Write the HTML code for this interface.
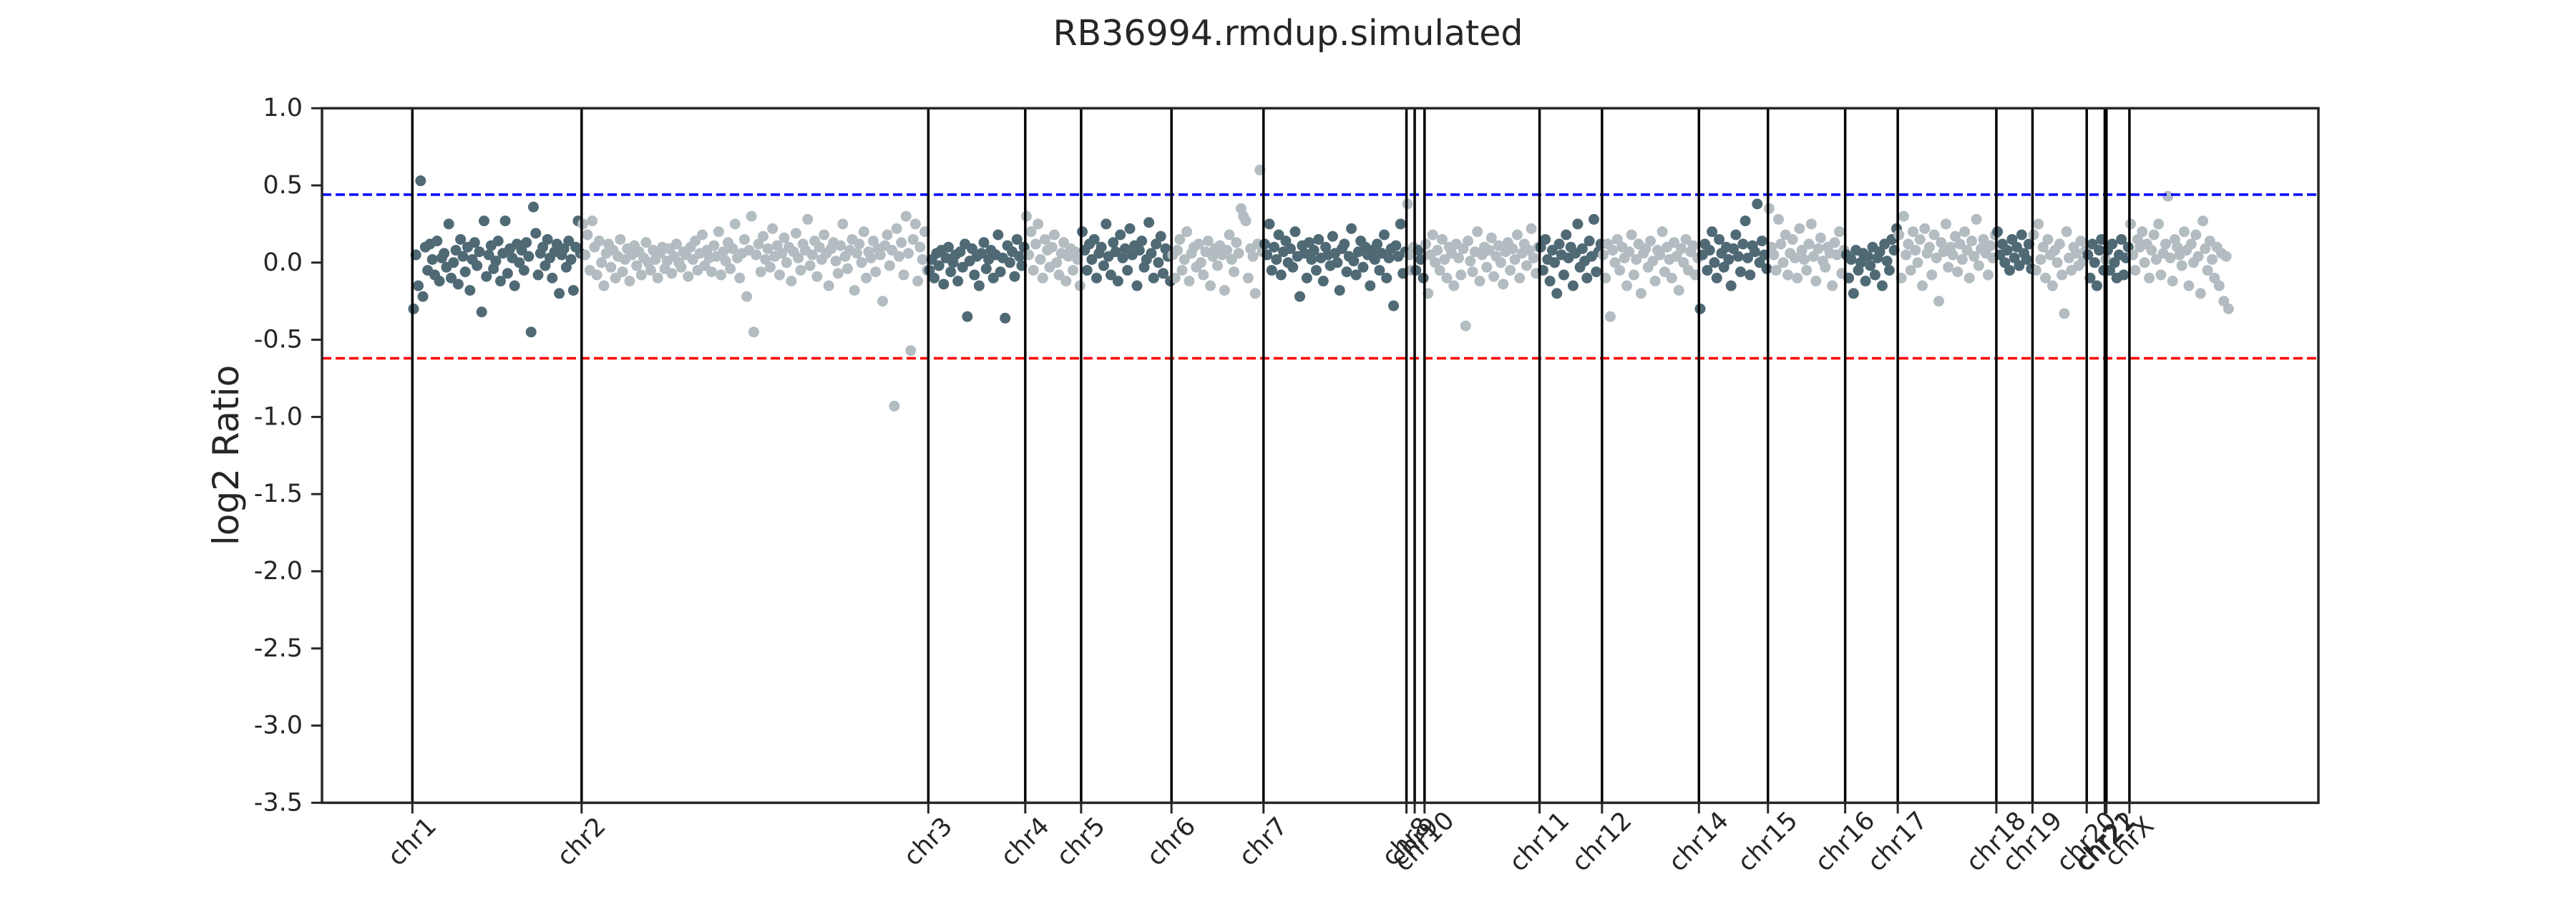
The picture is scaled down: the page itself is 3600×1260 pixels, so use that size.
<!DOCTYPE html>
<html><head><meta charset="utf-8"><style>
html,body{margin:0;padding:0;background:#fff;}
svg{display:block;font-family:"DejaVu Sans","Liberation Sans",sans-serif;}
</style></head><body>
<svg id="chart" width="3600" height="1260" viewBox="0 0 3600 1260" xmlns="http://www.w3.org/2000/svg">
<rect width="3600" height="1260" fill="#fff"/>
<text x="1800" y="63" text-anchor="middle" font-size="49" fill="#262626">RB36994.rmdup.simulated</text>
<text transform="translate(333,636) rotate(-90)" text-anchor="middle" font-size="50" fill="#262626">log2 Ratio</text>
<g id="plot"></g>
</svg>
<script>
const chromNames = ["chr1","chr2","chr3","chr4","chr5","chr6","chr7","chr8","chr9","chr10","chr11","chr12","chr14","chr15","chr16","chr17","chr18","chr19","chr20","chr21","chr22","chrX"];
const chromStarts = [55,158,369,428,462,517,573,660,665,671,741,779,838,880,927,959,1019,1041,1074,1085,1086,1100];
const genomeEnd = 1161;
const yTicks = [1.0,0.5,0.0,-0.5,-1.0,-1.5,-2.0,-2.5,-3.0,-3.5];
const yTickLabels = ["1.0","0.5","0.0","-0.5","-1.0","-1.5","-2.0","-2.5","-3.0","-3.5"];
const gainThreshold = 0.44;
const lossThreshold = -0.62;
const chr1 = [-0.30,0.05,-0.15,0.53,-0.22,0.10,-0.05,0.12,0.02,-0.08,0.14,-0.12,0.03,0.06,-0.03,0.25,-0.10,0.00,0.08,-0.14,0.15,0.04,-0.06,0.10,-0.18,0.02,0.13,-0.02,0.07,-0.32,0.27,-0.09,0.05,0.11,-0.04,0.01,0.14,-0.12,0.06,0.27,-0.07,0.09,0.03,-0.15,0.12,0.00,0.08,-0.05,0.13,0.04,-0.45,0.36,0.19,-0.08,0.06,0.10,-0.02,0.15,0.03,-0.10,0.07,0.12,-0.20,0.05,0.09,-0.03,0.14,0.02,-0.18,0.10,0.27,0.06];
const chr2 = [0.25,0.05,0.18,-0.05,0.27,0.10,-0.08,0.14,0.00,-0.15,0.06,0.12,-0.03,0.08,-0.10,0.04,0.15,-0.06,0.02,0.09,-0.12,0.05,0.11,-0.02,0.07,-0.08,0.03,0.13,0.00,-0.05,0.08,0.02,-0.10,0.06,0.10,-0.04,0.01,0.09,-0.07,0.04,0.12,0.00,-0.03,0.07,0.05,-0.09,0.10,0.02,0.14,-0.05,0.06,0.18,-0.02,0.08,0.03,-0.06,0.11,0.04,0.20,-0.08,0.07,0.01,0.13,-0.04,0.09,0.25,0.03,-0.10,0.06,0.15,-0.22,0.08,0.30,-0.45,0.05,0.12,-0.06,0.17,0.02,0.09,-0.03,0.22,0.04,0.11,-0.08,0.06,0.16,0.00,0.10,-0.12,0.07,0.19,0.03,-0.05,0.12,0.08,0.28,-0.02,0.05,0.14,-0.09,0.10,0.02,0.18,0.06,-0.15,0.09,0.13,0.01,-0.07,0.11,0.25,0.04,-0.04,0.08,0.15,-0.18,0.06,0.12,0.00,0.20,-0.10,0.07,0.03,0.14,-0.06,0.09,0.05,-0.25,0.11,0.18,-0.02,0.08,-0.93,0.22,0.04,0.13,-0.08,0.30,0.06,-0.57,0.15,0.25,-0.12,0.10,0.02,0.20,-0.05];
const chr3 = [-0.05,0.02,-0.10,0.06,-0.02,0.08,-0.14,0.03,0.10,-0.06,0.00,0.05,-0.12,0.07,-0.03,0.12,-0.35,0.01,0.09,-0.08,0.04,-0.15,0.06,0.13,-0.04,0.02,0.08,-0.10,0.05,0.18,-0.06,0.03,-0.36,0.11,0.00,0.07,-0.09,0.15,0.04,-0.02,0.10];
const chr4 = [0.30,0.05,0.20,-0.05,0.12,0.25,0.02,-0.10,0.15,0.08,-0.03,0.10,0.18,0.00,-0.08,0.06,0.13,-0.12,0.04,0.09,-0.05,0.07,0.02,-0.15];
const chr5 = [0.20,0.08,-0.05,0.12,0.02,0.15,-0.10,0.06,0.10,-0.02,0.25,0.04,-0.08,0.13,0.07,-0.12,0.18,0.03,0.09,-0.05,0.22,0.05,0.11,-0.15,0.08,0.14,-0.03,0.02,0.26,0.06,-0.10,0.12,0.00,0.17,-0.07,0.09,0.04,-0.12];
const chr6 = [0.05,-0.10,0.08,0.15,-0.05,0.02,0.20,-0.12,0.06,0.10,-0.03,0.12,0.00,-0.08,0.07,0.14,-0.15,0.04,0.09,-0.02,0.11,0.05,-0.18,0.08,0.18,0.02,-0.06,0.13,0.06,0.35,0.30,0.27,-0.10,0.09,0.04,-0.20,0.12,0.60,0.07];
const chr7 = [0.12,0.05,0.25,-0.05,0.10,0.02,0.18,-0.08,0.07,0.14,0.00,0.09,-0.03,0.20,0.04,-0.22,0.11,0.06,-0.10,0.13,0.02,0.08,-0.05,0.15,0.03,-0.12,0.10,0.05,-0.02,0.17,0.06,0.00,-0.18,0.09,0.12,-0.06,0.04,0.22,0.01,-0.08,0.07,0.14,-0.03,0.10,0.05,-0.15,0.08,0.02,0.12,-0.05,0.06,0.18,-0.10,0.03,0.09,-0.28,0.11,0.04,0.25,-0.07,0.07];
const chr8 = [0.38,0.05,-0.05,0.10];
const chr9 = [-0.05,0.08,0.02,-0.10];
const chr10 = [0.12,-0.20,0.05,0.18,0.00,0.08,-0.05,0.15,0.02,-0.10,0.10,0.06,-0.15,0.12,0.03,-0.08,0.09,-0.41,0.14,0.01,-0.06,0.07,0.20,-0.12,0.05,0.10,-0.03,0.08,0.16,-0.09,0.04,0.11,0.00,-0.14,0.07,0.13,-0.05,0.09,0.02,0.18,-0.10,0.06,0.12,-0.02,0.08,0.22,0.03,-0.07,0.10];
const chr11 = [0.10,-0.05,0.15,0.02,-0.12,0.08,0.00,-0.20,0.12,0.05,-0.08,0.18,0.03,0.10,-0.15,0.06,0.25,-0.03,0.09,0.01,-0.10,0.14,0.04,0.28,-0.06,0.07,0.12];
const chr12 = [0.05,-0.10,0.12,-0.35,0.08,0.00,0.15,-0.05,0.10,0.03,-0.15,0.07,0.18,-0.08,0.02,0.12,-0.20,0.06,0.09,-0.03,0.14,0.01,-0.12,0.08,0.05,0.20,-0.06,0.10,0.02,-0.10,0.13,0.04,-0.18,0.09,0.00,0.15,-0.05,0.07,0.11,-0.08,0.03];
const chr14 = [-0.30,0.05,0.12,-0.05,0.08,0.20,0.00,-0.10,0.15,0.06,-0.03,0.10,0.02,-0.15,0.09,0.18,0.04,-0.06,0.12,0.27,0.03,-0.08,0.11,0.07,0.38,0.00,0.14,0.05,-0.04];
const chr15 = [0.35,0.10,0.05,-0.05,0.28,0.12,0.00,0.18,-0.08,0.06,0.15,0.03,-0.10,0.22,0.08,0.02,-0.05,0.12,0.25,0.04,-0.12,0.09,0.16,0.01,-0.03,0.10,0.06,-0.15,0.13,0.05,0.20,-0.07,0.08];
const chr16 = [0.05,-0.10,0.02,-0.20,0.08,-0.05,0.00,0.06,-0.12,0.04,-0.02,0.10,-0.08,0.03,0.07,-0.15,0.12,0.01,-0.05,0.15,0.08,0.22];
const chr17 = [0.18,-0.10,0.30,0.05,0.12,-0.05,0.20,0.08,0.00,0.15,-0.15,0.22,0.06,0.10,-0.08,0.18,0.03,-0.25,0.13,0.07,0.25,-0.03,0.10,0.05,0.17,-0.06,0.12,0.02,0.20,0.08,-0.10,0.14,0.04,0.28,-0.02,0.09,0.15,0.06,-0.08,0.11,0.03,0.18];
const chr18 = [0.20,0.05,0.12,0.00,0.08,-0.05,0.15,0.03,0.10,-0.02,0.18,0.06,0.02,0.12,-0.04];
const chr19 = [0.18,-0.05,0.25,0.02,0.10,-0.10,0.15,0.05,-0.15,0.08,0.00,0.12,-0.08,-0.33,0.20,0.03,-0.05,0.10,0.06,-0.02,0.14,0.01,0.08];
const chr20 = [0.05,-0.10,0.12,0.00,-0.15,0.08,0.15,-0.05];
const chr21 = [0.02];
const chr22 = [0.08,-0.05,0.12,0.00,-0.10,0.05,0.15,-0.08,0.03,0.10];
const chrX = [0.25,0.05,-0.05,0.15,0.10,0.20,0.00,0.12,-0.10,0.08,0.18,0.02,0.25,-0.08,0.06,0.12,0.43,0.03,-0.12,0.15,0.10,0.05,-0.02,0.20,0.08,-0.15,0.12,0.00,0.18,0.04,-0.20,0.27,0.09,-0.05,0.14,0.02,-0.10,0.10,-0.15,0.06,-0.25,0.04,-0.30];
const chromValues = [chr1,chr2,chr3,chr4,chr5,chr6,chr7,chr8,chr9,chr10,chr11,chr12,chr14,chr15,chr16,chr17,chr18,chr19,chr20,chr21,chr22,chrX];

const NS = "http://www.w3.org/2000/svg";
const L = 450, R = 3240, T = 151.2, B = 1121.4;
const X_MIN = 0, X_MAX = 1215, Y_MIN = -3.5, Y_MAX = 1.0;
function xs(v){ return L + (v - X_MIN) / (X_MAX - X_MIN) * (R - L); }
function ys(v){ return T + (Y_MAX - v) / (Y_MAX - Y_MIN) * (B - T); }
const plot = document.getElementById('plot');
function mk(tag, attrs, parent){
  const e = document.createElementNS(NS, tag);
  for (const k in attrs) e.setAttribute(k, attrs[k]);
  (parent || plot).appendChild(e);
  return e;
}
const colors = ["#506a75", "#b3bcc1"];
const ptsG = mk('g', {});


chromValues.forEach((vals, ci) => {
  const s = chromStarts[ci];
  const e = ci + 1 < chromStarts.length ? chromStarts[ci + 1] : genomeEnd;
  const n = vals.length;
  vals.forEach((v, i) => {
    const c = mk('circle', {cx: xs(s + (i + 0.5) / n * (e - s)), cy: ys(v), r: 7.5, fill: colors[ci % 2]}, ptsG);
    
    
  });
});
const gl = mk('line', {x1: L, x2: R, y1: ys(gainThreshold), y2: ys(gainThreshold), stroke: '#0000ff', 'stroke-width': 3.5, 'stroke-dasharray': '13 6'});


const ll = mk('line', {x1: L, x2: R, y1: ys(lossThreshold), y2: ys(lossThreshold), stroke: '#ff0000', 'stroke-width': 3.5, 'stroke-dasharray': '13 6'});


chromStarts.forEach((s, ci) => {
  const x = xs(s);
  const ln = mk('line', {x1: x, x2: x, y1: T, y2: B, stroke: '#000', 'stroke-width': 3.5});
  
  
  const tk = mk('line', {x1: x, x2: x, y1: B, y2: B + 15, stroke: '#262626', 'stroke-width': 3});
  
  
  const tx = mk('text', {x: 0, y: 0, transform: 'translate(' + x + ',1176) rotate(-45)', 'text-anchor': 'middle', 'dominant-baseline': 'central', 'font-size': 35, fill: '#262626'});
  tx.textContent = chromNames[ci];
  
  
});
yTicks.forEach((v, i) => {
  const y = ys(v);
  const tk = mk('line', {x1: L - 15, x2: L, y1: y, y2: y, stroke: '#262626', 'stroke-width': 3});
  
  
  const tx = mk('text', {x: 423, y: y, 'text-anchor': 'end', 'dominant-baseline': 'central', 'font-size': 35, fill: '#262626'});
  tx.textContent = yTickLabels[i];
  
  
});
const fr = mk('rect', {x: L, y: T, width: R - L, height: B - T, fill: 'none', stroke: '#262626', 'stroke-width': 3.5});


</script>
</body></html>
